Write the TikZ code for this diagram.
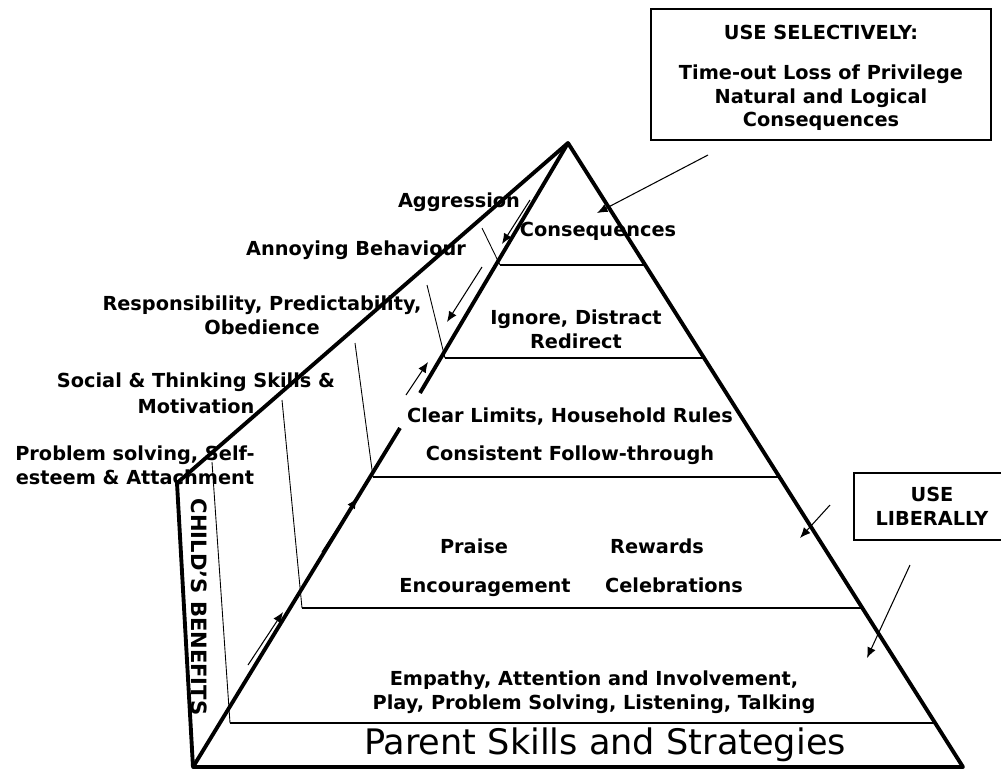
\documentclass[tikz,border=0pt]{standalone}
\usepackage{fontspec}
\setmainfont{DejaVu Sans}
\usetikzlibrary{arrows.meta}

\begin{document}
\begin{tikzpicture}[x=0.02cm,y=-0.02cm,
    lbl/.style={font=\fontsize{11}{13.6}\selectfont\bfseries,align=center,inner sep=0pt},
    one/.style={lbl,text height=8.2pt,text depth=2.4pt},
    edge/.style={line width=2.2pt,line join=round},
    layer/.style={line width=0.9pt},
    tie/.style={line width=0.5pt},
    ptr/.style={line width=0.6pt,-{Latex[length=6pt,width=5pt]}},
    tag/.style={draw,line width=0.7pt,inner sep=0pt,lbl}]
\useasboundingbox (0,0) rectangle (1001,768);

\coordinate (apex) at (568,143);
\coordinate (bl) at (193,767);
\coordinate (br) at (963,767);
\coordinate (wing) at (177,483);
\coordinate (gapT) at (420,393);
\coordinate (gapB) at (400,428);

\draw[edge] (gapT) -- (apex) -- (br) -- (bl) -- (gapB);
\draw[edge] (bl) -- (wing) -- (apex);

\coordinate (top1) at (482,228);
\coordinate (top2) at (427,285);
\coordinate (top3) at (355,343);
\coordinate (top4) at (282,400);
\coordinate (top5) at (212,462);
\coordinate (lay1) at (500,265);
\coordinate (lay2) at (445,358);
\coordinate (lay3) at (373,477);
\coordinate (lay4) at (302,608);
\coordinate (lay5) at (230,723);
\coordinate (end1) at (645,265);
\coordinate (end2) at (704,358);
\coordinate (end3) at (779,477);
\coordinate (end4) at (862,608);
\coordinate (end5) at (935,723);

\foreach \i in {1,...,5} {
    \draw[tie] (top\i) -- (lay\i);
    \draw[layer] (lay\i) -- (end\i);
}

\draw[line width=0.7pt] (651,9) rectangle (991,140);
\node[lbl] (selective) at (821,78)
    {USE SELECTIVELY:\\[9pt]Time-out Loss of Privilege\\Natural and Logical\\Consequences};
\node[tag,minimum width=3.12cm,minimum height=1.34cm] (liberal) at (932,506.5)
    {USE\\LIBERALLY};

\node[one] (aggression) at (459,202) {Aggression};
\node[one] (annoying) at (356,250) {Annoying Behaviour};
\node[lbl] (respons) at (262,315) {Responsibility, Predictability,\\Obedience};
\node[lbl] (social) at (196,393) {Social \& Thinking Skills \&\\[1pt]Motivation};
\node[lbl] (problem) at (135,465) {Problem solving, Self-\\esteem \& Attachment};
\node[lbl,font=\fontsize{12}{14}\selectfont\bfseries,rotate=-90] (benefits) at (199,607) {CHILD'S BENEFITS};

\node[one] (conseq) at (598,231) {Consequences};
\node[lbl] (ignore) at (576,329) {Ignore, Distract\\Redirect};
\node[one] (limits) at (570,417) {Clear Limits, Household Rules};
\node[one] (follow) at (570,455) {Consistent Follow-through};
\node[one] (praise) at (474,548) {Praise};
\node[one] (rewards) at (657,548) {Rewards};
\node[one] (encour) at (485,587) {Encouragement};
\node[one] (celeb) at (674,587) {Celebrations};
\node[lbl] (empathy) at (594,692) {Empathy, Attention and Involvement,\\Play, Problem Solving, Listening, Talking};
\node[font=\fontsize{20}{23}\selectfont,inner sep=0pt] (parent) at (605,745) {Parent Skills and Strategies};

\coordinate (a1s) at (530,200);
\coordinate (a1e) at (502,244);
\coordinate (a2s) at (482,267);
\coordinate (a2e) at (447,322);
\coordinate (a3s) at (406,395);
\coordinate (a3e) at (428,362);
\coordinate (a4s) at (322,552);
\coordinate (a4e) at (357,498);
\coordinate (a5s) at (248,665);
\coordinate (a5e) at (283,612);
\coordinate (b1s) at (708,155);
\coordinate (b1e) at (597,213);
\coordinate (b2s) at (830,505);
\coordinate (b2e) at (800,538);
\coordinate (b3s) at (910,565);
\coordinate (b3e) at (867,658);

\foreach \p in {a1,a2,a3,a4,a5,b1,b2,b3}
    \draw[ptr] (\p s) -- (\p e);
\end{tikzpicture}
\end{document}
